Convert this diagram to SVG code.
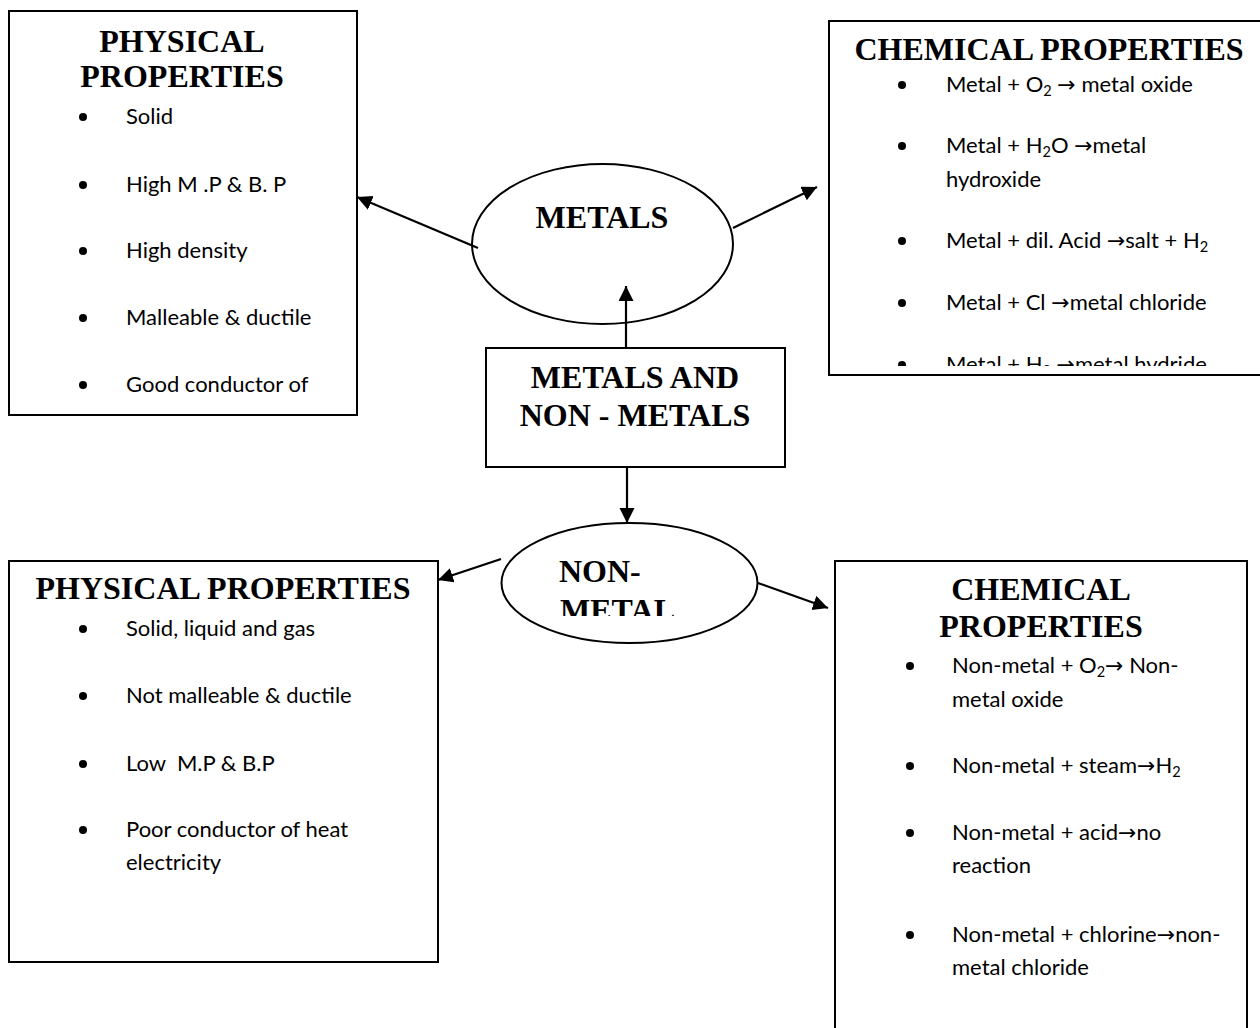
<svg xmlns="http://www.w3.org/2000/svg" width="1260" height="1028" viewBox="0 0 1260 1028">
<style>
.box{fill:#fff;stroke:#000;stroke-width:2}
.ell{fill:#fff;stroke:#000;stroke-width:2}
.h{font-family:"Liberation Serif","Times New Roman",serif;font-weight:bold;font-size:32px;fill:#000}
.t{font-family:Lato,"Liberation Sans",sans-serif;font-size:22px;fill:#000;white-space:pre}
.sub{font-size:14.5px}
.ar{font-family:"DejaVu Sans",sans-serif;font-size:22px}
.c{text-anchor:middle}
.conn line{stroke:#000;stroke-width:2.2;fill:none}
</style>
<defs>
<marker id="ah" markerUnits="userSpaceOnUse" markerWidth="16" markerHeight="16" refX="15" refY="7.5" orient="auto">
<path d="M0,0 L15,7.5 L0,15 z" fill="#000"/>
</marker>
<clipPath id="clipTR"><rect x="829" y="21" width="431" height="345"/></clipPath>
<clipPath id="clipNM"><rect x="500" y="520" width="260" height="96"/></clipPath>
</defs>
<rect width="1260" height="1028" fill="#fff"/>

<g id="phys-metal">
<rect class="box" x="9" y="11" width="348" height="404"/>
<text class="h c" x="182" y="52">PHYSICAL</text>
<text class="h c" x="182" y="87">PROPERTIES</text>
<circle cx="83" cy="117" r="4"/><text class="t" x="126" y="124">Solid</text>
<circle cx="83" cy="185" r="4"/><text class="t" x="126" y="192">High M .P &amp; B. P</text>
<circle cx="83" cy="251" r="4"/><text class="t" x="126" y="258">High density</text>
<circle cx="83" cy="318" r="4"/><text class="t" x="126" y="325">Malleable &amp; ductile</text>
<circle cx="83" cy="385" r="4"/><text class="t" x="126" y="392">Good conductor of</text>
</g>

<g id="chem-metal">
<rect class="box" x="829" y="21" width="440" height="354"/>
<text class="h c" x="1049" y="60">CHEMICAL PROPERTIES</text>
<g clip-path="url(#clipTR)">
<circle cx="902" cy="85" r="4"/><text class="t" x="946" y="92">Metal + O<tspan class="sub" dy="4">2</tspan><tspan dy="-4"> </tspan><tspan class="ar">→</tspan> metal oxide</text>
<circle cx="902" cy="146" r="4"/><text class="t" x="946" y="153">Metal + H<tspan class="sub" dy="4">2</tspan><tspan dy="-4">O </tspan><tspan class="ar">→</tspan>metal</text>
<text class="t" x="946" y="187">hydroxide</text>
<circle cx="902" cy="241" r="4"/><text class="t" x="946" y="248">Metal + dil. Acid <tspan class="ar">→</tspan>salt + H<tspan class="sub" dy="4">2</tspan></text>
<circle cx="902" cy="303" r="4"/><text class="t" x="946" y="310">Metal + Cl <tspan class="ar">→</tspan>metal chloride</text>
<circle cx="902" cy="365" r="4"/><text class="t" x="946" y="372">Metal + H<tspan class="sub" dy="4">2</tspan><tspan dy="-4"> </tspan><tspan class="ar">→</tspan>metal hydride</text>
</g>
</g>

<g id="metals">
<ellipse class="ell" cx="602.5" cy="244" rx="130.5" ry="80"/>
<text class="h c" x="602" y="228">METALS</text>
</g>

<g id="root">
<rect class="box" x="486" y="348" width="299" height="119"/>
<text class="h c" x="635" y="388">METALS AND</text>
<text class="h c" x="635" y="426">NON - METALS</text>
</g>

<g id="nonmetals">
<ellipse class="ell" cx="629.5" cy="583" rx="128" ry="60"/>
<text class="h" x="559" y="582">NON-</text>
<text class="h" x="560" y="621" clip-path="url(#clipNM)">METAL</text>
</g>

<g id="phys-nonmetal">
<rect class="box" x="9" y="561" width="429" height="401"/>
<text class="h c" x="223" y="599">PHYSICAL PROPERTIES</text>
<circle cx="83" cy="629" r="4"/><text class="t" x="126" y="636">Solid, liquid and gas</text>
<circle cx="83" cy="696" r="4"/><text class="t" x="126" y="703">Not malleable &amp; ductile</text>
<circle cx="83" cy="764" r="4"/><text class="t" x="126" y="771">Low  M.P &amp; B.P</text>
<circle cx="83" cy="830" r="4"/><text class="t" x="126" y="837">Poor conductor of heat</text>
<text class="t" x="126" y="870">electricity</text>
</g>

<g id="chem-nonmetal">
<rect class="box" x="835" y="561" width="412" height="480"/>
<text class="h c" x="1041" y="600">CHEMICAL</text>
<text class="h c" x="1041" y="637">PROPERTIES</text>
<circle cx="910" cy="666" r="4"/><text class="t" x="952" y="673">Non-metal + O<tspan class="sub" dy="4">2</tspan><tspan class="ar" dy="-4">→</tspan> Non-</text>
<text class="t" x="952" y="707">metal oxide</text>
<circle cx="910" cy="766" r="4"/><text class="t" x="952" y="773">Non-metal + steam<tspan class="ar">→</tspan>H<tspan class="sub" dy="4">2</tspan></text>
<circle cx="910" cy="833" r="4"/><text class="t" x="952" y="840">Non-metal + acid<tspan class="ar">→</tspan>no</text>
<text class="t" x="952" y="873">reaction</text>
<circle cx="910" cy="935" r="4"/><text class="t" x="952" y="942">Non-metal + chlorine<tspan class="ar">→</tspan>non-</text>
<text class="t" x="952" y="975">metal chloride</text>
</g>

<g class="conn" id="connectors">
<line x1="478" y1="248" x2="357" y2="197" marker-end="url(#ah)"/>
<line x1="733" y1="228" x2="817" y2="187" marker-end="url(#ah)"/>
<line x1="626" y1="348" x2="626" y2="286" marker-end="url(#ah)"/>
<line x1="627" y1="467" x2="627" y2="523" marker-end="url(#ah)"/>
<line x1="501" y1="559" x2="438" y2="580" marker-end="url(#ah)"/>
<line x1="758" y1="583" x2="828" y2="608" marker-end="url(#ah)"/>
</g>
</svg>
